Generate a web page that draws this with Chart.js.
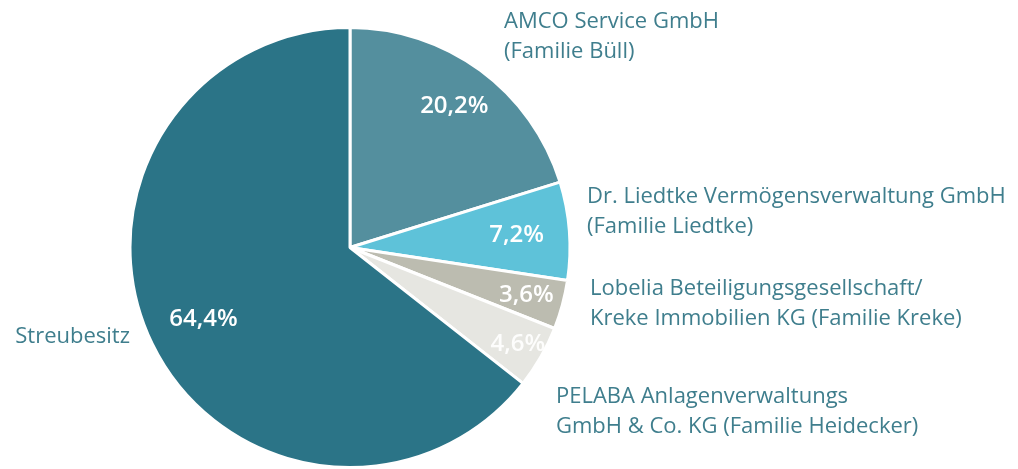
<!DOCTYPE html>
<html>
<head>
<meta charset="utf-8">
<script src="https://cdn.jsdelivr.net/npm/chart.js@4"></script>
<style>
  html, body { margin: 0; padding: 0; background: #fff; }
  #wrap { width: 1018px; height: 469px; }
</style>
</head>
<body>
<div id="wrap"><canvas id="aktionaere"></canvas></div>
<script>
// Aktionärsstruktur
const labels = [
  ["AMCO Service GmbH", "(Familie Büll)"],
  ["Dr. Liedtke Vermögensverwaltung GmbH", "(Familie Liedtke)"],
  ["Lobelia Beteiligungsgesellschaft/", "Kreke Immobilien KG (Familie Kreke)"],
  ["PELABA Anlagenverwaltungs", "GmbH & Co. KG (Familie Heidecker)"],
  ["Streubesitz"]
];
const shares = [20.2, 7.2, 3.6, 4.6, 64.4];
const percentLabels = ["20,2%", "7,2%", "3,6%", "4,6%", "64,4%"];

const colors = ["#548f9e", "#5ec2d9", "#bcbcb0", "#e6e6e1", "#2b7487"];
// where the outer labels sit (layout only)
const labelPos = [
  { x: 504, y: 22, align: "left" },
  { x: 587, y: 197, align: "left" },
  { x: 590, y: 289, align: "left" },
  { x: 556, y: 397, align: "left" },
  { x: 130, y: 337, align: "right" }
];
const pctRadius = [0.80, 0.76, 0.83, 0.88, 0.74];

const labelPlugin = {
  id: "labelPlugin",
  afterDraw(chart) {
    const ctx = chart.ctx;
    const arcs = chart.getDatasetMeta(0).data;
    ctx.save();
    ctx.textBaseline = "middle";

    // percent values inside the slices
    ctx.font = "600 24px 'Open Sans'";
    ctx.textAlign = "center";
    arcs.forEach(function(arc, i) {
      const p = arc.getProps(["x", "y", "startAngle", "endAngle", "outerRadius"], true);
      const mid = (p.startAngle + p.endAngle) / 2;
      const r = p.outerRadius * pctRadius[i];
      ctx.fillStyle = i === 3 ? "rgba(255,255,255,0.9)" : "#ffffff";
      ctx.fillText(percentLabels[i], p.x + Math.cos(mid) * r, p.y + Math.sin(mid) * r);
    });

    // names outside
    ctx.font = "22px 'Open Sans'";
    ctx.fillStyle = "#3f7e8d";
    labels.forEach(function(lines, i) {
      const pos = labelPos[i];
      ctx.textAlign = pos.align;
      lines.forEach(function(line, j) {
        ctx.fillText(line, pos.x, pos.y + j * 30);
      });
    });
    ctx.restore();
  }
};

const ctx = document.getElementById("aktionaere").getContext("2d");
new Chart(ctx, {
  type: "pie",
  data: {
    labels: labels,
    datasets: [{
      data: shares,
      backgroundColor: colors,
      borderColor: "#ffffff",
      borderWidth: 3
    }]
  },
  options: {
    responsive: true,
    maintainAspectRatio: false,
    animation: false,
    layout: {
      padding: { left: 128, right: 446, top: 26, bottom: 0 }
    },
    plugins: {
      legend: { display: false },
      tooltip: { enabled: false }
    }
  },
  plugins: [labelPlugin]
});
</script>
</body>
</html>
